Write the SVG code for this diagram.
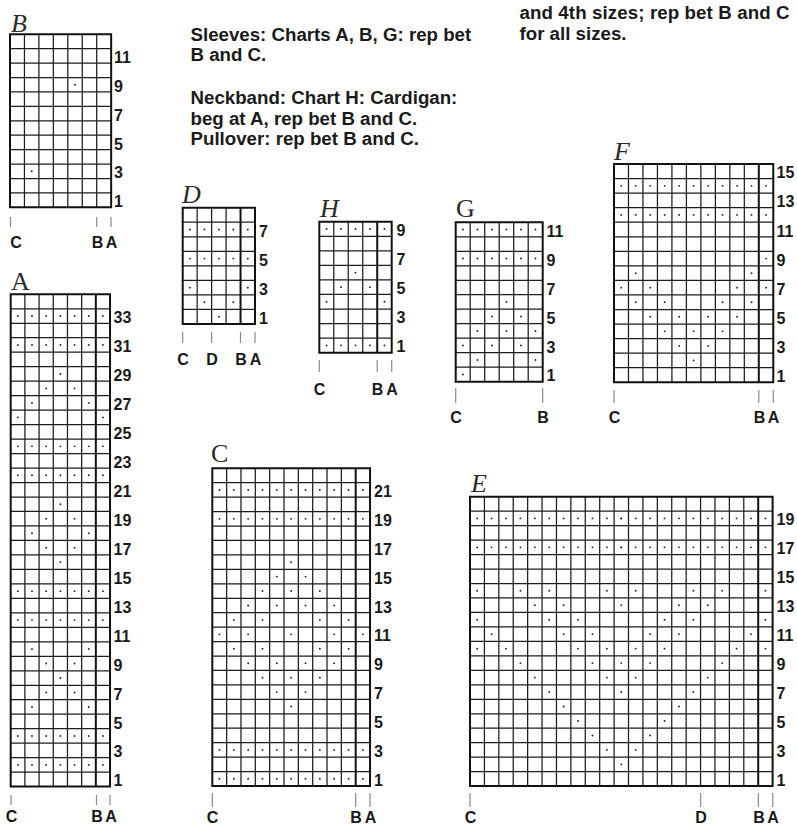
<svg xmlns="http://www.w3.org/2000/svg" width="797" height="825" viewBox="0 0 797 825">
<style>
.g{fill:none;stroke:#1e1e1e;stroke-width:1.25;vector-effect:non-scaling-stroke}
.bd{fill:none;stroke:#111;stroke-width:2;vector-effect:non-scaling-stroke}
.tk{fill:none;stroke:#8a8a8a;stroke-width:1.2}
.n{font-family:"Liberation Sans",Arial,sans-serif;font-weight:bold;font-size:16px;fill:#1a1a1a}
.m{text-anchor:middle}
.t{font-family:"Liberation Serif","Times New Roman",serif;font-size:26px;fill:#2a2a2a}
.i{font-style:italic}
.h{font-family:"Liberation Sans",Arial,sans-serif;font-weight:bold;font-size:18.7px;fill:#1a1a1a}
</style>
<defs>
<circle id="dt" r=".065" fill="#222"/>
<g id="r5"><use href="#dt" x=".5" y=".5"/><use href="#dt" x="1.5" y=".5"/><use href="#dt" x="2.5" y=".5"/><use href="#dt" x="3.5" y=".5"/><use href="#dt" x="4.5" y=".5"/></g>
<g id="r6"><use href="#r5"/><use href="#dt" x="5.5" y=".5"/></g>
<g id="r7"><use href="#r6"/><use href="#dt" x="6.5" y=".5"/></g>
<g id="r11"><use href="#r7"/><use href="#dt" x="7.5" y=".5"/><use href="#dt" x="8.5" y=".5"/><use href="#dt" x="9.5" y=".5"/><use href="#dt" x="10.5" y=".5"/></g>
<g id="r21"><use href="#r11"/><use href="#r11" x="10"/></g>
</defs>
<rect width="797" height="825" fill="#fff"/>

<g id="notes">
<text class="h" x="190.5" y="40.5">Sleeves: Charts A, B, G: rep bet</text>
<text class="h" x="190.5" y="61">B and C.</text>
<text class="h" x="190.5" y="104">Neckband: Chart H: Cardigan:</text>
<text class="h" x="190.5" y="124.5">beg at A, rep bet B and C.</text>
<text class="h" x="190.5" y="144.5">Pullover: rep bet B and C.</text>
<text class="h" x="519.5" y="19" textLength="270" lengthAdjust="spacing">and 4th sizes; rep bet B and C</text>
<text class="h" x="519.5" y="40">for all sizes.</text>
</g>

<g id="chart-B">
<text class="t i" x="11" y="31.5">B</text>
<g transform="translate(10,34.3) scale(14.45,14.42)">
<path class="g" d="M1 0V12M2 0V12M3 0V12M4 0V12M5 0V12M6 0V12M0 1H7M0 2H7M0 3H7M0 4H7M0 5H7M0 6H7M0 7H7M0 8H7M0 9H7M0 10H7M0 11H7"/>
<rect class="bd" width="7" height="12"/>
<use href="#dt" x="4.5" y="3.5"/><use href="#dt" x="1.5" y="9.5"/>
</g>
<text class="n" x="114" y="62.9">11</text><text class="n" x="114" y="91.8">9</text><text class="n" x="114" y="120.6">7</text><text class="n" x="114" y="149.5">5</text><text class="n" x="114" y="178.3">3</text><text class="n" x="114" y="207.1">1</text>
<path class="tk" d="M10.5 217V227M96.7 217V227M111 217V227"/>
<text class="n m" x="16" y="248">C</text><text class="n m" x="97.5" y="248">B</text><text class="n m" x="111.5" y="248">A</text>
</g>

<g id="chart-A">
<text class="t" x="11" y="290">A</text>
<g transform="translate(10.7,294.3) scale(14.19,14.48)">
<path class="g" d="M1 0V34M2 0V34M3 0V34M4 0V34M5 0V34M0 1H7M0 2H7M0 3H7M0 4H7M0 5H7M0 6H7M0 7H7M0 8H7M0 9H7M0 10H7M0 11H7M0 12H7M0 13H7M0 14H7M0 15H7M0 16H7M0 17H7M0 18H7M0 19H7M0 20H7M0 21H7M0 22H7M0 23H7M0 24H7M0 25H7M0 26H7M0 27H7M0 28H7M0 29H7M0 30H7M0 31H7M0 32H7M0 33H7"/>
<rect class="bd" width="7" height="34"/>
<path class="bd" d="M6 0V34"/>
<use href="#r7" y="1"/><use href="#r7" y="3"/>
<use href="#dt" x="3.5" y="5.5"/>
<use href="#dt" x="2.5" y="6.5"/><use href="#dt" x="4.5" y="6.5"/>
<use href="#dt" x="1.5" y="7.5"/><use href="#dt" x="5.5" y="7.5"/>
<use href="#dt" x=".5" y="8.5"/><use href="#dt" x="6.5" y="8.5"/>
<use href="#r7" y="10"/><use href="#r7" y="12"/>
<use href="#dt" x="3.5" y="14.5"/>
<use href="#dt" x="2.5" y="15.5"/><use href="#dt" x="4.5" y="15.5"/>
<use href="#dt" x="1.5" y="16.5"/><use href="#dt" x="5.5" y="16.5"/>
<use href="#dt" x="2.5" y="17.5"/><use href="#dt" x="4.5" y="17.5"/>
<use href="#dt" x="3.5" y="18.5"/>
<use href="#r7" y="20"/><use href="#r7" y="22"/>
<use href="#dt" x="1.5" y="24.5"/><use href="#dt" x="5.5" y="24.5"/>
<use href="#dt" x="2.5" y="25.5"/><use href="#dt" x="4.5" y="25.5"/>
<use href="#dt" x="3.5" y="26.5"/>
<use href="#dt" x="2.5" y="27.5"/><use href="#dt" x="4.5" y="27.5"/>
<use href="#dt" x="1.5" y="28.5"/><use href="#dt" x="5.5" y="28.5"/>
<use href="#r7" y="30"/><use href="#r7" y="32"/>
</g>
<text class="n" x="113.5" y="323">33</text><text class="n" x="113.5" y="352">31</text><text class="n" x="113.5" y="380.9">29</text><text class="n" x="113.5" y="409.9">27</text><text class="n" x="113.5" y="438.9">25</text><text class="n" x="113.5" y="467.8">23</text><text class="n" x="113.5" y="496.8">21</text><text class="n" x="113.5" y="525.7">19</text><text class="n" x="113.5" y="554.7">17</text><text class="n" x="113.5" y="583.7">15</text><text class="n" x="113.5" y="612.6">13</text><text class="n" x="113.5" y="641.6">11</text><text class="n" x="113.5" y="670.5">9</text><text class="n" x="113.5" y="699.5">7</text><text class="n" x="113.5" y="728.5">5</text><text class="n" x="113.5" y="757.4">3</text><text class="n" x="113.5" y="786.4">1</text>
<path class="tk" d="M11 795V805M96.5 795V805M110 795V805"/>
<text class="n m" x="11.5" y="822">C</text><text class="n m" x="97" y="822">B</text><text class="n m" x="111" y="822">A</text>
</g>

<g id="chart-D">
<text class="t i" x="182" y="203">D</text>
<g transform="translate(182.7,207.7) scale(14.46,14.54)">
<path class="g" d="M1 0V8M2 0V8M3 0V8M0 1H5M0 2H5M0 3H5M0 4H5M0 5H5M0 6H5M0 7H5"/>
<rect class="bd" width="5" height="8"/>
<path class="bd" d="M4 0V8"/>
<use href="#r5" y="1"/><use href="#r5" y="3"/>
<use href="#dt" x=".5" y="5.5"/><use href="#dt" x="4.5" y="5.5"/>
<use href="#dt" x="1.5" y="6.5"/><use href="#dt" x="3.5" y="6.5"/>
<use href="#dt" x="2.5" y="7.5"/>
</g>
<text class="n" x="259" y="236.5">7</text><text class="n" x="259" y="265.6">5</text><text class="n" x="259" y="294.7">3</text><text class="n" x="259" y="323.8">1</text>
<path class="tk" d="M182.7 332V343M211.6 332V343M240.5 332V343M255 332V343"/>
<text class="n m" x="183" y="365">C</text><text class="n m" x="212" y="365">D</text><text class="n m" x="241" y="365">B</text><text class="n m" x="255.5" y="365">A</text>
</g>

<g id="chart-H">
<text class="t i" x="320" y="217">H</text>
<g transform="translate(319.3,221.7) scale(14.48,14.55)">
<path class="g" d="M1 0V9M2 0V9M3 0V9M0 1H5M0 2H5M0 3H5M0 4H5M0 5H5M0 6H5M0 7H5M0 8H5"/>
<rect class="bd" width="5" height="9"/>
<path class="bd" d="M4 0V9"/>
<use href="#r5"/>
<use href="#dt" x="2.5" y="3.5"/>
<use href="#dt" x="1.5" y="4.5"/><use href="#dt" x="3.5" y="4.5"/>
<use href="#dt" x=".5" y="5.5"/><use href="#dt" x="4.5" y="5.5"/>
<use href="#r5" y="8"/>
</g>
<text class="n" x="396.5" y="236">9</text><text class="n" x="396.5" y="265.1">7</text><text class="n" x="396.5" y="294.2">5</text><text class="n" x="396.5" y="323.3">3</text><text class="n" x="396.5" y="352.4">1</text>
<path class="tk" d="M319.3 360V372M377.2 360V372M391.7 360V372"/>
<text class="n m" x="319.5" y="395">C</text><text class="n m" x="377.5" y="395">B</text><text class="n m" x="392" y="395">A</text>
</g>

<g id="chart-G">
<text class="t" x="456" y="217">G</text>
<g transform="translate(455.7,222.3) scale(14.5,14.49)">
<path class="g" d="M1 0V11M2 0V11M3 0V11M4 0V11M5 0V11M0 1H6M0 2H6M0 3H6M0 4H6M0 5H6M0 6H6M0 7H6M0 8H6M0 9H6M0 10H6"/>
<rect class="bd" width="6" height="11"/>
<use href="#r6"/><use href="#r6" y="2"/>
<use href="#dt" x="3.5" y="5.5"/>
<use href="#dt" x="2.5" y="6.5"/><use href="#dt" x="4.5" y="6.5"/>
<use href="#dt" x="1.5" y="7.5"/><use href="#dt" x="3.5" y="7.5"/><use href="#dt" x="5.5" y="7.5"/>
<use href="#dt" x=".5" y="8.5"/><use href="#dt" x="2.5" y="8.5"/><use href="#dt" x="4.5" y="8.5"/>
<use href="#dt" x="1.5" y="9.5"/><use href="#dt" x="5.5" y="9.5"/>
<use href="#dt" x=".5" y="10.5"/>
</g>
<text class="n" x="546.5" y="236.5">11</text><text class="n" x="546.5" y="265.5">9</text><text class="n" x="546.5" y="294.5">7</text><text class="n" x="546.5" y="323.5">5</text><text class="n" x="546.5" y="352.5">3</text><text class="n" x="546.5" y="381.4">1</text>
<path class="tk" d="M455.7 388V403M542.7 388V403"/>
<text class="n m" x="456" y="423">C</text><text class="n m" x="543" y="423">B</text>
</g>

<g id="chart-F">
<text class="t i" x="614" y="160">F</text>
<g transform="translate(614,164) scale(14.48,14.55)">
<path class="g" d="M1 0V15M2 0V15M3 0V15M4 0V15M5 0V15M6 0V15M7 0V15M8 0V15M9 0V15M0 1H11M0 2H11M0 3H11M0 4H11M0 5H11M0 6H11M0 7H11M0 8H11M0 9H11M0 10H11M0 11H11M0 12H11M0 13H11M0 14H11"/>
<rect class="bd" width="11" height="15"/>
<path class="bd" d="M10 0V15"/>
<use href="#r11" y="1"/><use href="#r11" y="3"/>
<use href="#dt" x="10.5" y="6.5"/>
<use href="#dt" x="1.5" y="7.5"/><use href="#dt" x="9.5" y="7.5"/>
<use href="#dt" x=".5" y="8.5"/><use href="#dt" x="2.5" y="8.5"/><use href="#dt" x="8.5" y="8.5"/><use href="#dt" x="10.5" y="8.5"/>
<use href="#dt" x="1.5" y="9.5"/><use href="#dt" x="3.5" y="9.5"/><use href="#dt" x="7.5" y="9.5"/><use href="#dt" x="9.5" y="9.5"/>
<use href="#dt" x="2.5" y="10.5"/><use href="#dt" x="4.5" y="10.5"/><use href="#dt" x="6.5" y="10.5"/><use href="#dt" x="8.5" y="10.5"/>
<use href="#dt" x="3.5" y="11.5"/><use href="#dt" x="5.5" y="11.5"/><use href="#dt" x="7.5" y="11.5"/>
<use href="#dt" x="4.5" y="12.5"/><use href="#dt" x="6.5" y="12.5"/>
<use href="#dt" x="5.5" y="13.5"/>
</g>
<text class="n" x="776.5" y="178.3">15</text><text class="n" x="776.5" y="207.4">13</text><text class="n" x="776.5" y="236.5">11</text><text class="n" x="776.5" y="265.6">9</text><text class="n" x="776.5" y="294.7">7</text><text class="n" x="776.5" y="323.8">5</text><text class="n" x="776.5" y="352.9">3</text><text class="n" x="776.5" y="382">1</text>
<path class="tk" d="M614 390V403M758.8 390V403M773.3 390V403"/>
<text class="n m" x="614.5" y="423">C</text><text class="n m" x="759.5" y="423">B</text><text class="n m" x="773.5" y="423">A</text>
</g>

<g id="chart-C">
<text class="t" x="211" y="462">C</text>
<g transform="translate(212.3,468.3) scale(14.34,14.44)">
<path class="g" d="M1 0V22M2 0V22M3 0V22M4 0V22M5 0V22M6 0V22M7 0V22M8 0V22M9 0V22M0 1H11M0 2H11M0 3H11M0 4H11M0 5H11M0 6H11M0 7H11M0 8H11M0 9H11M0 10H11M0 11H11M0 12H11M0 13H11M0 14H11M0 15H11M0 16H11M0 17H11M0 18H11M0 19H11M0 20H11M0 21H11"/>
<rect class="bd" width="11" height="22"/>
<path class="bd" d="M10 0V22"/>
<use href="#r11" y="1"/><use href="#r11" y="3"/>
<use href="#dt" x="5.5" y="6.5"/>
<use href="#dt" x="4.5" y="7.5"/><use href="#dt" x="6.5" y="7.5"/>
<use href="#dt" x="3.5" y="8.5"/><use href="#dt" x="5.5" y="8.5"/><use href="#dt" x="7.5" y="8.5"/>
<use href="#dt" x="2.5" y="9.5"/><use href="#dt" x="4.5" y="9.5"/><use href="#dt" x="6.5" y="9.5"/><use href="#dt" x="8.5" y="9.5"/>
<use href="#dt" x="1.5" y="10.5"/><use href="#dt" x="3.5" y="10.5"/><use href="#dt" x="7.5" y="10.5"/><use href="#dt" x="9.5" y="10.5"/>
<use href="#dt" x=".5" y="11.5"/><use href="#dt" x="2.5" y="11.5"/><use href="#dt" x="5.5" y="11.5"/><use href="#dt" x="8.5" y="11.5"/><use href="#dt" x="10.5" y="11.5"/>
<use href="#dt" x="1.5" y="12.5"/><use href="#dt" x="3.5" y="12.5"/><use href="#dt" x="7.5" y="12.5"/><use href="#dt" x="9.5" y="12.5"/>
<use href="#dt" x="2.5" y="13.5"/><use href="#dt" x="4.5" y="13.5"/><use href="#dt" x="6.5" y="13.5"/><use href="#dt" x="8.5" y="13.5"/>
<use href="#dt" x="3.5" y="14.5"/><use href="#dt" x="5.5" y="14.5"/><use href="#dt" x="7.5" y="14.5"/>
<use href="#dt" x="4.5" y="15.5"/><use href="#dt" x="6.5" y="15.5"/>
<use href="#dt" x="5.5" y="16.5"/>
<use href="#r11" y="19"/><use href="#r11" y="21"/>
</g>
<text class="n" x="374" y="497">21</text><text class="n" x="374" y="525.8">19</text><text class="n" x="374" y="554.7">17</text><text class="n" x="374" y="583.6">15</text><text class="n" x="374" y="612.5">13</text><text class="n" x="374" y="641.4">11</text><text class="n" x="374" y="670.2">9</text><text class="n" x="374" y="699.1">7</text><text class="n" x="374" y="728">5</text><text class="n" x="374" y="756.9">3</text><text class="n" x="374" y="785.8">1</text>
<path class="tk" d="M212.3 793V807M355.7 793V807M370 793V807"/>
<text class="n m" x="212.5" y="823">C</text><text class="n m" x="356" y="823">B</text><text class="n m" x="370.5" y="823">A</text>
</g>

<g id="chart-E">
<text class="t i" x="471" y="492">E</text>
<g transform="translate(470,496.7) scale(14.41,14.47)">
<path class="g" d="M1 0V20M2 0V20M3 0V20M4 0V20M5 0V20M6 0V20M7 0V20M8 0V20M9 0V20M10 0V20M11 0V20M12 0V20M13 0V20M14 0V20M15 0V20M16 0V20M17 0V20M18 0V20M19 0V20M0 1H21M0 2H21M0 3H21M0 4H21M0 5H21M0 6H21M0 7H21M0 8H21M0 9H21M0 10H21M0 11H21M0 12H21M0 13H21M0 14H21M0 15H21M0 16H21M0 17H21M0 18H21M0 19H21"/>
<rect class="bd" width="21" height="20"/>
<path class="bd" d="M20 0V20"/>
<use href="#r21" y="1"/><use href="#r21" y="3"/>
<use href="#dt" x=".5" y="6.5"/><use href="#dt" x="3.5" y="6.5"/><use href="#dt" x="5.5" y="6.5"/><use href="#dt" x="9.5" y="6.5"/><use href="#dt" x="11.5" y="6.5"/><use href="#dt" x="15.5" y="6.5"/><use href="#dt" x="17.5" y="6.5"/><use href="#dt" x="20.5" y="6.5"/>
<use href="#dt" x="4.5" y="7.5"/><use href="#dt" x="6.5" y="7.5"/><use href="#dt" x="10.5" y="7.5"/><use href="#dt" x="14.5" y="7.5"/><use href="#dt" x="16.5" y="7.5"/>
<use href="#dt" x=".5" y="8.5"/><use href="#dt" x="5.5" y="8.5"/><use href="#dt" x="7.5" y="8.5"/><use href="#dt" x="13.5" y="8.5"/><use href="#dt" x="15.5" y="8.5"/><use href="#dt" x="20.5" y="8.5"/>
<use href="#dt" x="1.5" y="9.5"/><use href="#dt" x="6.5" y="9.5"/><use href="#dt" x="8.5" y="9.5"/><use href="#dt" x="12.5" y="9.5"/><use href="#dt" x="14.5" y="9.5"/><use href="#dt" x="19.5" y="9.5"/>
<use href="#dt" x=".5" y="10.5"/><use href="#dt" x="2.5" y="10.5"/><use href="#dt" x="7.5" y="10.5"/><use href="#dt" x="9.5" y="10.5"/><use href="#dt" x="11.5" y="10.5"/><use href="#dt" x="13.5" y="10.5"/><use href="#dt" x="18.5" y="10.5"/><use href="#dt" x="20.5" y="10.5"/>
<use href="#dt" x="3.5" y="11.5"/><use href="#dt" x="8.5" y="11.5"/><use href="#dt" x="10.5" y="11.5"/><use href="#dt" x="12.5" y="11.5"/><use href="#dt" x="17.5" y="11.5"/>
<use href="#dt" x="4.5" y="12.5"/><use href="#dt" x="9.5" y="12.5"/><use href="#dt" x="11.5" y="12.5"/><use href="#dt" x="16.5" y="12.5"/>
<use href="#dt" x="5.5" y="13.5"/><use href="#dt" x="10.5" y="13.5"/><use href="#dt" x="15.5" y="13.5"/>
<use href="#dt" x="6.5" y="14.5"/><use href="#dt" x="14.5" y="14.5"/>
<use href="#dt" x="7.5" y="15.5"/><use href="#dt" x="13.5" y="15.5"/>
<use href="#dt" x="8.5" y="16.5"/><use href="#dt" x="12.5" y="16.5"/>
<use href="#dt" x="9.5" y="17.5"/><use href="#dt" x="11.5" y="17.5"/>
<use href="#dt" x="10.5" y="18.5"/>
</g>
<text class="n" x="776.5" y="525.4">19</text><text class="n" x="776.5" y="554.3">17</text><text class="n" x="776.5" y="583.3">15</text><text class="n" x="776.5" y="612.2">13</text><text class="n" x="776.5" y="641.2">11</text><text class="n" x="776.5" y="670.1">9</text><text class="n" x="776.5" y="699">7</text><text class="n" x="776.5" y="728">5</text><text class="n" x="776.5" y="756.9">3</text><text class="n" x="776.5" y="785.9">1</text>
<path class="tk" d="M470 793V807M700.6 793V807M758.3 793V807M772.7 793V807"/>
<text class="n m" x="470.5" y="823">C</text><text class="n m" x="701" y="823">D</text><text class="n m" x="759" y="823">B</text><text class="n m" x="773" y="823">A</text>
</g>
</svg>
